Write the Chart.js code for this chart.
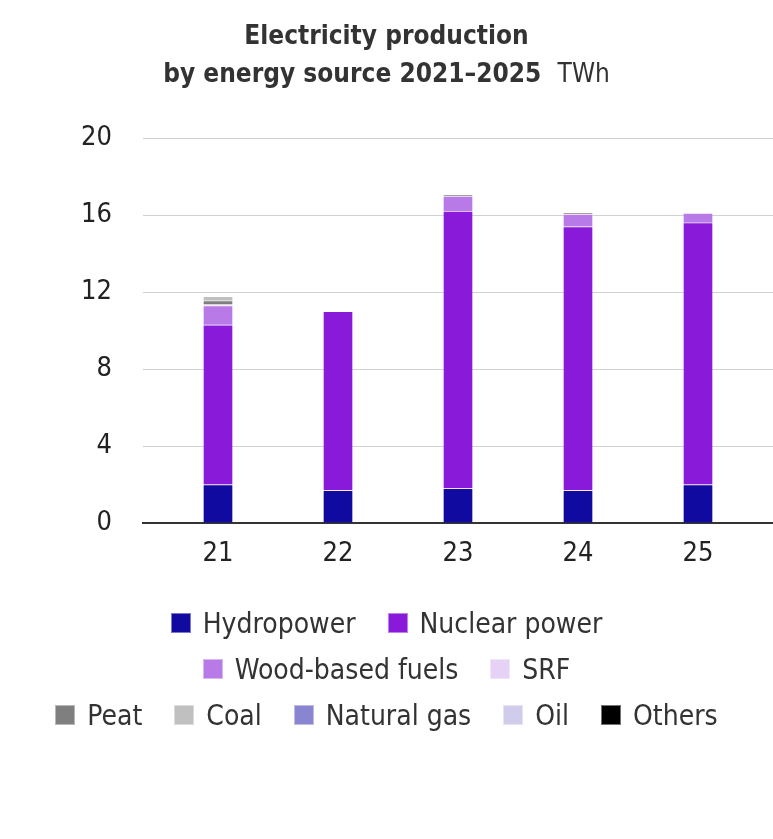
<!DOCTYPE html>
<html><head><meta charset="utf-8">
<script src="https://cdn.jsdelivr.net/npm/chart.js@4/dist/chart.umd.min.js"></script>
<style>
html,body{margin:0;padding:0;background:#fff;}
#wrap{position:relative;width:773px;height:839px;overflow:hidden;}
canvas{position:absolute;left:0;top:0;}
#title{position:absolute;left:0;top:16px;width:773px;text-align:center;color:#333;
 font-family:"Liberation Sans Narrow","DejaVu Sans Condensed","Roboto Condensed",sans-serif;font-size:26px;line-height:38px;font-weight:bold;}
#title .u{font-weight:normal;}
#legend{position:absolute;left:0;top:600px;width:773px;color:#333;
 font-family:"Liberation Sans Narrow","DejaVu Sans Condensed",sans-serif;font-size:28px;}
.row{display:flex;justify-content:center;height:46px;align-items:center;}
.item{display:flex;align-items:center;margin:0 16px;}
.box{width:20px;height:20px;margin-right:12px;box-sizing:border-box;border:1px solid rgba(255,255,255,0.45);}
</style></head>
<body><div id="wrap">
<canvas id="c" width="773" height="839"></canvas>
<div id="title">Electricity production<br>by energy source 2021–2025&nbsp;&nbsp;<span class="u">TWh</span></div>
<div id="legend"></div>
</div>
<script>
const categories = ["21","22","23","24","25"];
const seriesNames = ["Hydropower","Nuclear power","Wood-based fuels","SRF","Peat","Coal","Natural gas","Oil","Others"];
const hydro   = [2.0, 1.7, 1.8, 1.7, 2.0];
const nuclear = [8.3, 9.3, 14.4, 13.7, 13.6];
const wood    = [1.0, 0.0, 0.78, 0.65, 0.5];
const srf     = [0.05, 0, 0, 0, 0];
const peat    = [0.2, 0, 0.06, 0.06, 0];
const coal    = [0.22, 0, 0, 0, 0];
const gas     = [0, 0, 0, 0, 0];
const oil     = [0, 0, 0, 0, 0];
const others  = [0, 0, 0, 0, 0];
const yTicks  = [0, 4, 8, 12, 16, 20];
const colors = ["#110aa0","#8a1ad9","#b87ae6","#e6d2f5","#7f7f7f","#c0c0c0","#8a85d0","#cfcdeb","#000000"];
const legendRows = [[0,1],[2,3],[4,5,6,7,8]];
const series = [hydro,nuclear,wood,srf,peat,coal,gas,oil,others];

const FONT = '"Liberation Sans Narrow","DejaVu Sans Condensed",sans-serif';
const datasets = series.map((vals,k)=>({
  label: seriesNames[k],
  data: vals.map((v,i)=>({x:i,y:v})),
  backgroundColor: colors[k],
  borderColor: 'rgba(255,255,255,0.3)',
  borderWidth: 1,
  barThickness: 30,
  stack: 's'
}));

new Chart(document.getElementById('c'), {
  type: 'bar',
  data: { datasets },
  options: {
    responsive: false,
    devicePixelRatio: 1,
    animation: false,
    layout: { padding: { top: 138, right: 0, left: 0, bottom: 259 } },
    plugins: { legend: { display: false }, tooltip: { enabled: false } },
    scales: {
      x: {
        type: 'linear', stacked: true, min: -0.625, max: 4.625, offset: false,
        grid: { display: false, drawTicks: false, offset: false },
        border: { display: true, color: '#333', width: 2 },
        afterBuildTicks: s => { s.ticks = categories.map((c,i)=>({value:i})); },
        afterFit: s => { s.height = 57; },
        ticks: { color: '#222', font: { family: FONT, size: 27 }, padding: 15,
                 callback: v => categories[v] }
      },
      y: {
        stacked: true, min: 0, max: 20,
        grid: { color: '#d0d0d0', lineWidth: 1, drawTicks: false },
        border: { display: false },
        afterBuildTicks: s => { s.ticks = yTicks.map(v=>({value:v})); },
        afterFit: s => { s.width = 143; },
        ticks: { color: '#222', font: { family: FONT, size: 27 }, padding: 31 }
      }
    }
  }
});

const lg = document.getElementById('legend');
legendRows.forEach(r=>{
  const row = document.createElement('div'); row.className='row';
  r.forEach(k=>{
    const it = document.createElement('div'); it.className='item';
    const b = document.createElement('span'); b.className='box'; b.style.background=colors[k];
    const t = document.createElement('span'); t.textContent = seriesNames[k];
    it.appendChild(b); it.appendChild(t); row.appendChild(it);
  });
  lg.appendChild(row);
});
</script>
</body></html>
